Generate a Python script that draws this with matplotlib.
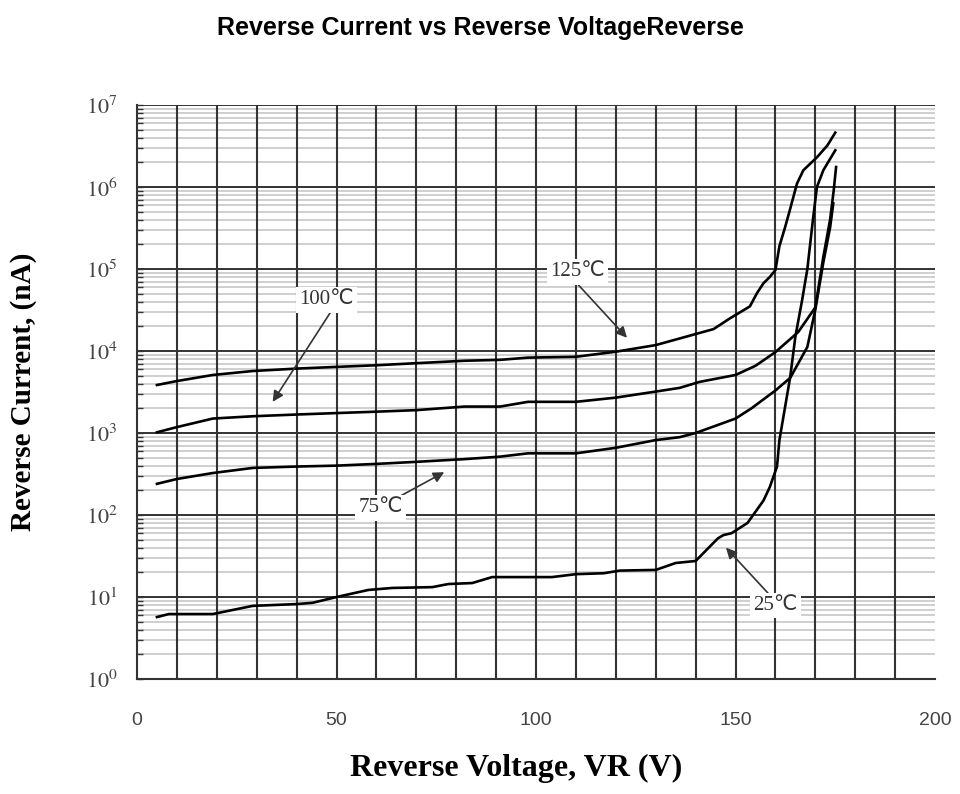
import math
import matplotlib
matplotlib.use("Agg")
import matplotlib.pyplot as plt
from matplotlib.ticker import LogLocator, NullFormatter, FuncFormatter

plt.rcParams['mathtext.fontset'] = 'stix'

# Reverse voltage (V) and reverse current (nA) per temperature
v25 = [5, 8, 19, 29, 40, 44, 50, 58, 64, 74, 78, 84, 89, 104, 110, 117, 121, 130, 135, 140,
       145.6, 147, 149, 153, 157, 158.6, 160.4, 161, 163.7, 165, 166.7, 168, 169.4, 170.4, 172, 175]
i25 = [5.7, 6.2, 6.2, 7.8, 8.2, 8.5, 10, 12.2, 12.9, 13.2, 14.4, 14.8, 17.5, 17.5, 19, 19.5, 21, 21.4, 26, 27.5,
       52, 57, 60, 80, 150, 220, 390, 820, 4.8e3, 1.5e4, 4.2e4, 1e5, 4e5, 1e6, 1.6e6, 2.8e6]

v75 = [5, 10, 19, 29, 40, 50, 60, 70, 82, 91, 98, 110, 120, 130, 136, 140, 150, 154, 160, 163.7,
       168, 170, 172, 173.7, 174.5]
i75 = [240, 275, 325, 375, 390, 400, 420, 445, 480, 515, 565, 565, 660, 820, 890, 1000, 1500, 2000, 3300, 4700,
       1.12e4, 3.2e4, 1.2e5, 3.2e5, 6.3e5]

v100 = [5, 10, 19, 29, 40, 50, 60, 70, 82, 91, 98, 110, 120, 130, 136, 141, 150, 155, 160, 165.7,
        170, 172, 173.7, 174.6, 175.2]
i100 = [1.02e3, 1.18e3, 1.5e3, 1.6e3, 1.68e3, 1.75e3, 1.82e3, 1.9e3, 2.1e3, 2.1e3, 2.4e3, 2.4e3, 2.7e3, 3.2e3,
        3.55e3, 4.2e3, 5.1e3, 6.6e3, 9.7e3, 1.7e4, 3.4e4, 1.4e5, 4e5, 9e5, 1.75e6]

v125 = [5, 10, 19, 29, 40, 50, 60, 70, 82, 91, 98, 110, 120, 130, 141, 144.5, 148.6, 153.6, 155.4, 157,
        158.6, 160, 161, 162.4, 163.6, 165.4, 167, 170.4, 173, 175]
i125 = [3.85e3, 4.3e3, 5.1e3, 5.7e3, 6.1e3, 6.4e3, 6.7e3, 7.1e3, 7.6e3, 7.8e3, 8.3e3, 8.5e3, 9.8e3, 1.18e4,
        1.66e4, 1.85e4, 2.5e4, 3.5e4, 5.1e4, 6.7e4, 8e4, 9.7e4, 1.9e5, 3.2e5, 5.2e5, 1.1e6, 1.6e6, 2.3e6, 3.2e6, 4.6e6]

# label text, arrow tip (V, nA), text position (V, nA)
labels = ["125℃", "100℃", "75℃", "25℃"]
tips = [(122.8, 1.45e4), (34, 2.4e3), (77, 333), (147.6, 40)]
text_pos = [(110.5, 9.2e4), (47.6, 4.2e4), (61, 122), (160, 7.8)]
arrow_from = [(0.45, 0.0), (0.6, 0.0), (0.85, 1.0), (0.4, 1.0)]

x_ticks = [0, 50, 100, 150, 200]
x_grid = list(range(10, 200, 10))

fig = plt.figure(figsize=(9.6, 7.94), dpi=100)
ax = fig.add_axes([0.1427, 0.1448, 0.8313, 0.723])

for v, i in [(v25, i25), (v75, i75), (v100, i100), (v125, i125)]:
    ax.plot(v, i, color='black', lw=1.9, zorder=3)

ax.set_yscale('log')
ax.set_xlim(0, 200)
ax.set_ylim(1, 1e7)

ax.yaxis.set_major_locator(LogLocator(base=10, numticks=20))
ax.yaxis.set_minor_locator(LogLocator(base=10, subs=range(2, 10), numticks=100))
ax.yaxis.set_minor_formatter(NullFormatter())
ax.yaxis.set_major_formatter(FuncFormatter(lambda y, p: r'$10^{%d}$' % round(math.log10(y))))

ax.set_xticks(x_ticks)
ax.set_xticklabels([str(t) for t in x_ticks], fontfamily='Liberation Sans', fontsize=14, color='#444444')

ax.grid(True, which='minor', axis='y', color='#cccccc', lw=1.3)
ax.grid(True, which='major', axis='y', color='#333333', lw=1.4)
ax.vlines(x_grid, 1, 1e7, colors='#333333', lw=1.5, zorder=2.5)

ax.tick_params(axis='x', which='both', length=0, pad=24)
ax.tick_params(axis='y', which='both', direction='in', length=4, width=1, color='#333333',
               labelsize=16, labelcolor='#444444', pad=14)

for s in ['top', 'right']:
    ax.spines[s].set_visible(False)
for s in ['left', 'bottom']:
    ax.spines[s].set_color('#333333')
    ax.spines[s].set_linewidth(1.5)

for lab, tip, tp, rp in zip(labels, tips, text_pos, arrow_from):
    ax.annotate(lab, xy=tip, xytext=tp, ha='center', va='center',
                fontsize=15, color='#333333', family=['Liberation Serif', 'DejaVu Sans'],
                bbox=dict(boxstyle='square,pad=0.15', fc='white', ec='none'),
                arrowprops=dict(arrowstyle='-|>', color='#333333', lw=1.2, mutation_scale=16,
                                shrinkA=0, shrinkB=0, relpos=rp),
                zorder=5)

ax.set_xlabel('Reverse Voltage, VR (V)', fontfamily='Liberation Serif', fontweight='bold', fontsize=23)
ax.xaxis.set_label_coords(0.475, -0.13)
ax.set_ylabel('Reverse Current, (nA)', fontfamily='Liberation Serif', fontweight='bold', fontsize=21)
ax.yaxis.set_label_coords(-0.125, 0.5)

fig.text(0.5, 1 - 28 / 794, 'Reverse Current vs Reverse VoltageReverse', ha='center', va='center',
         fontfamily='Liberation Sans', fontweight='bold', fontsize=18)

fig.savefig('out.png', dpi=100)
